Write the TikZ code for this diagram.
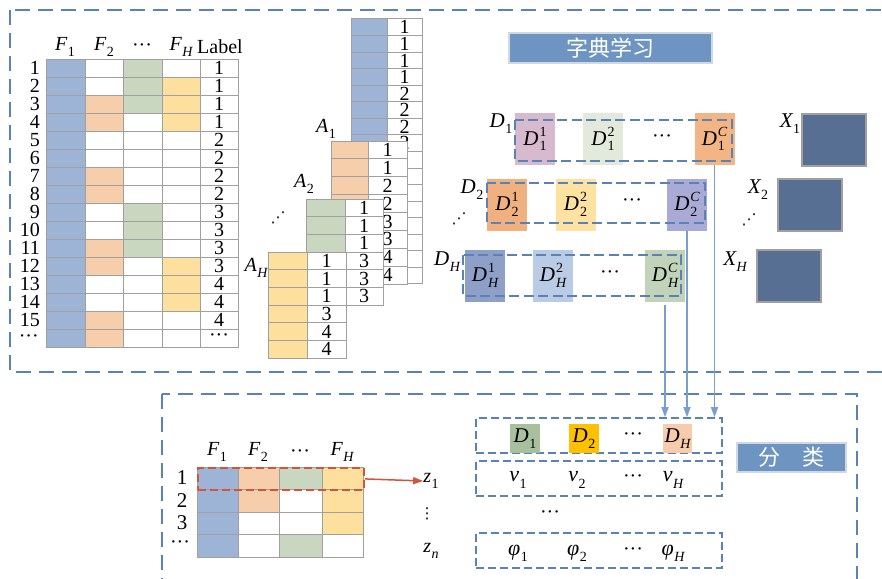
\RequirePackage{fix-cm}
\documentclass[tikz,border=0pt]{standalone}
\usepackage{fontspec}
\setmainfont{Liberation Serif}
\newfontfamily\cjk{Noto Sans CJK SC}
\newfontfamily\dvs{DejaVu Sans}
\usetikzlibrary{arrows.meta}
\definecolor{tblue}{RGB}{157,180,214}
\definecolor{tpeach}{RGB}{246,206,172}
\definecolor{tgreen}{RGB}{201,215,192}
\definecolor{tyellow}{RGB}{254,224,158}
\definecolor{gridgray}{RGB}{160,160,160}
\definecolor{dashblue}{RGB}{91,130,180}
\definecolor{arrblue}{RGB}{122,158,208}
\definecolor{titleblue}{RGB}{110,149,194}
\definecolor{titleborder}{RGB}{208,216,228}
\definecolor{xblue}{RGB}{86,111,146}
\definecolor{redline}{RGB}{208,85,58}
\definecolor{cAa}{RGB}{216,186,207}
\definecolor{cAb}{RGB}{227,234,220}
\definecolor{cAc}{RGB}{242,181,131}
\definecolor{cBa}{RGB}{241,176,127}
\definecolor{cBb}{RGB}{254,226,162}
\definecolor{cBc}{RGB}{169,170,214}
\definecolor{cCa}{RGB}{143,160,200}
\definecolor{cCb}{RGB}{186,203,230}
\definecolor{cCc}{RGB}{193,211,184}
\definecolor{bD1}{RGB}{169,192,159}
\definecolor{bD2}{RGB}{255,192,0}
\definecolor{bDH}{RGB}{248,203,173}
\newcommand\fs[1]{\fontsize{#1}{#1}\selectfont}
\newcommand\mydots{···}
% italic symbol with subscript
\newcommand\isub[2]{{\itshape #1}\kern0.5pt\raisebox{-0.28em}{\fs{14}#2}}
% italic symbol with superscript and subscript stacked
\newcommand\isupsub[3]{{\itshape #1}\kern1pt\ooalign{\raisebox{0.42em}{\fs{14}#3}\cr\raisebox{-0.28em}{\fs{14}#2}\cr}}
\newcommand\iH{{\itshape H}}
\begin{document}
\begin{tikzpicture}[x=1pt,y=-1pt,
  cell/.style={draw=gridgray, line width=1pt, inner sep=0pt, outer sep=0pt, anchor=north west, font=\fs{20}},
  lbl/.style={inner sep=0pt, font=\fs{20}},
  dts/.style={inner sep=0pt, font=\fs{20}},
  vd/.style={inner sep=0pt, font=\dvs\fs{15}},
  obox/.style={draw=dashblue, line width=2.4pt, dash pattern=on 15pt off 8pt},
  ibox/.style={draw=dashblue, line width=1.8pt, dash pattern=on 10pt off 4.5pt, inner sep=0pt},
  sbox/.style={draw=dashblue, line width=1.6pt, dash pattern=on 8pt off 4pt, inner sep=0pt},
  dsq/.style={minimum width=40pt, minimum height=52pt, inner sep=0pt, font=\fs{21}},
  xsq/.style={fill=xblue, draw=gridgray, line width=2pt, minimum width=64pt, minimum height=52pt, inner sep=0pt},
  titlebox/.style={fill=titleblue, draw=titleborder, line width=1.5pt, text=white, inner sep=0pt, font=\cjk\fs{22}},
  barrow/.style={draw=arrblue, line width=1.5pt, -{Triangle[length=10pt,width=7pt]}},
  rarrow/.style={draw=redline, line width=1.5pt, -{Triangle[length=10pt,width=7pt]}}]
\useasboundingbox (0,0) rectangle (882,578);
\clip (0,0) rectangle (882,578);

% outer dashed boxes
\draw[obox] (10,10) rectangle (900,372);
\draw[obox] (162,394) rectangle (857,600);

% ---------- left table ----------
\node[lbl] (h1) at (65,47) {\isub{F}{1}};
\node[lbl] (h2) at (104,47) {\isub{F}{2}};
\node[dts] (h3) at (142,48) {\mydots};
\node[lbl] (h4) at (181,47) {\isub{F}{\iH}};
\node[lbl] (h5) at (220,47) {Label};
\foreach \r/\b/\c/\d/\l in {1/white/tgreen/white/1, 2/white/tgreen/tyellow/1, 3/tpeach/tgreen/tyellow/1, 4/tpeach/white/tyellow/1, 5/white/white/white/2, 6/white/white/white/2, 7/tpeach/white/white/2, 8/tpeach/white/white/2, 9/white/tgreen/white/3, 10/white/tgreen/white/3, 11/tpeach/tgreen/white/3, 12/tpeach/white/tyellow/3, 13/white/white/tyellow/4, 14/white/white/tyellow/4, 15/tpeach/white/white/4}{
  \node[cell, fill=tblue, minimum width=39pt, minimum height=18pt] (L\r-a) at (46,{59+18*(\r-1)}) {};
  \node[cell, fill=\b, minimum width=38pt, minimum height=18pt] (L\r-b) at (85,{59+18*(\r-1)}) {};
  \node[cell, fill=\c, minimum width=39pt, minimum height=18pt] (L\r-c) at (123,{59+18*(\r-1)}) {};
  \node[cell, fill=\d, minimum width=38pt, minimum height=18pt] (L\r-d) at (162,{59+18*(\r-1)}) {};
  \node[cell, fill=white, minimum width=38pt, minimum height=18pt] (L\r-e) at (200,{59+18*(\r-1)}) {\l};
  \node[anchor=east, inner sep=0pt, font=\fs{20}] (R\r) at (40,{68+18*(\r-1)}) {\r};
}
\node[cell, fill=tblue, minimum width=39pt, minimum height=18pt] (L16-a) at (46,329) {};
\node[cell, fill=tpeach, minimum width=38pt, minimum height=18pt] (L16-b) at (85,329) {};
\node[cell, fill=white, minimum width=39pt, minimum height=18pt] (L16-c) at (123,329) {};
\node[cell, fill=white, minimum width=38pt, minimum height=18pt] (L16-d) at (162,329) {};
\node[cell, fill=white, minimum width=38pt, minimum height=18pt] (L16-e) at (200,329) {\mydots};
\node[anchor=east, dts] (R16) at (39,339) {\mydots};

% ---------- stacks ----------
\foreach \i/\l in {1/1,2/1,3/1,4/1,5/2,6/2,7/2,8/2,9/,10/,11/,12/,13/,14/,15/,16/}{
  \node[cell, fill=tblue, minimum width=36pt, minimum height=16.56pt] (Sa\i) at (351,{19+16.56*(\i-1)}) {};
  \node[cell, fill=white, minimum width=35pt, minimum height=16.56pt] (Sa\i n) at (387,{19+16.56*(\i-1)}) {\l};
}
\foreach \i/\l in {1/1,2/1,3/2,4/2,5/3,6/3,7/4,8/4}{
  \node[cell, fill=tpeach, minimum width=37pt, minimum height=17.9pt] (Sb\i) at (331,{141+17.9*(\i-1)}) {};
  \node[cell, fill=white, minimum width=39pt, minimum height=17.9pt] (Sb\i n) at (368,{141+17.9*(\i-1)}) {\l};
}
\foreach \i/\l in {1/1,2/1,3/1,4/3,5/3,6/3}{
  \node[cell, fill=tgreen, minimum width=39pt, minimum height=17.67pt] (Sc\i) at (306,{199+17.67*(\i-1)}) {};
  \node[cell, fill=white, minimum width=38pt, minimum height=17.67pt] (Sc\i n) at (345,{199+17.67*(\i-1)}) {\l};
}
\foreach \i/\l in {1/1,2/1,3/1,4/3,5/4,6/4}{
  \node[cell, fill=tyellow, minimum width=39pt, minimum height=17.7pt] (Sd\i) at (268,{252+17.7*(\i-1)}) {};
  \node[cell, fill=white, minimum width=39pt, minimum height=17.7pt] (Sd\i n) at (307,{252+17.7*(\i-1)}) {\l};
}
\node[lbl] (A1) at (326,129) {\isub{A}{1}};
\node[lbl] (A2) at (304,184) {\isub{A}{2}};
\node[vd] (Adots) at (278,218) {⋰};
\node[lbl] (AH) at (256,268) {\isub{A}{\iH}};

% ---------- dictionary learning ----------
\node[titlebox, minimum width=203pt, minimum height=30pt] (title) at (610.5,48) {字典学习};

% row 1
\node[dsq, fill=cAa] (d11) at (535,139) {\isupsub{D}{1}{1}};
\node[dsq, fill=cAb] (d12) at (603,139) {\isupsub{D}{1}{2}};
\node[dts] (d1dots) at (662,139) {\mydots};
\node[dsq, fill=cAc] (d1c) at (714.5,139) {\isupsub{D}{1}{\itshape C}};
\draw[ibox] (515,120) rectangle (732,161);
\node[lbl, font=\fs{21}] (D1) at (501,124) {\isub{D}{1}};
\node[lbl, font=\fs{21}] (X1l) at (790,124) {\isub{X}{1}};
\node[xsq] (X1) at (833.5,139.5) {};

% row 2
\node[dsq, fill=cBa] (d21) at (507,204.5) {\isupsub{D}{2}{1}};
\node[dsq, fill=cBb] (d22) at (575.5,204.5) {\isupsub{D}{2}{2}};
\node[dts] (d2dots) at (632,203) {\mydots};
\node[dsq, fill=cBc] (d2c) at (687,204.5) {\isupsub{D}{2}{\itshape C}};
\draw[ibox] (487,183) rectangle (705,223);
\node[lbl, font=\fs{21}] (D2) at (472,190) {\isub{D}{2}};
\node[vd] (Ddots) at (459,219) {⋰};
\node[lbl, font=\fs{21}] (X2l) at (758,190) {\isub{X}{2}};
\node[vd] (Xdots) at (749,220) {⋰};
\node[xsq] (X2) at (809.5,204.5) {};

% row H
\node[dsq, fill=cCa] (dh1) at (485,275.5) {\isupsub{D}{\iH}{1}};
\node[dsq, fill=cCb] (dh2) at (553,275.5) {\isupsub{D}{\iH}{2}};
\node[dts] (dhdots) at (610,275) {\mydots};
\node[dsq, fill=cCc] (dhc) at (665,275.5) {\isupsub{D}{\iH}{\itshape C}};
\draw[ibox] (463,255) rectangle (681,296);
\node[lbl, font=\fs{21}] (DH) at (447,262) {\isub{D}{\iH}};
\node[lbl, font=\fs{21}] (XHl) at (735,262) {\isub{X}{\iH}};
\node[xsq] (XH) at (788.5,275.5) {};

% ---------- classification ----------
\node[lbl] (g1) at (217,452) {\isub{F}{1}};
\node[lbl] (g2) at (258,452) {\isub{F}{2}};
\node[dts] (g3) at (300,454) {\mydots};
\node[lbl] (g4) at (342,452) {\isub{F}{\iH}};
\foreach \r/\a/\b/\c/\d/\t in {1/tblue/tpeach/tgreen/tyellow/1, 2/tblue/tpeach/white/tyellow/2, 3/tblue/white/white/tyellow/3}{
  \node[cell, fill=\a, minimum width=41pt, minimum height=22.5pt] (B\r-a) at (197,{467+22.5*(\r-1)}) {};
  \node[cell, fill=\b, minimum width=41pt, minimum height=22.5pt] (B\r-b) at (238,{467+22.5*(\r-1)}) {};
  \node[cell, fill=\c, minimum width=43pt, minimum height=22.5pt] (B\r-c) at (279,{467+22.5*(\r-1)}) {};
  \node[cell, fill=\d, minimum width=41pt, minimum height=22.5pt] (B\r-d) at (322,{467+22.5*(\r-1)}) {};
  \node[inner sep=0pt, font=\fs{21}] (BR\r) at (182,{478+22.5*(\r-1)}) {\t};
}
\node[cell, fill=tblue, minimum width=41pt, minimum height=22.5pt] (B4-a) at (197,534.5) {};
\node[cell, fill=white, minimum width=41pt, minimum height=22.5pt] (B4-b) at (238,534.5) {};
\node[cell, fill=tgreen, minimum width=43pt, minimum height=22.5pt] (B4-c) at (279,534.5) {};
\node[cell, fill=white, minimum width=41pt, minimum height=22.5pt] (B4-d) at (322,534.5) {};
\node[dts] (BR4) at (180,545) {\mydots};
\node[draw=redline, line width=1.8pt, dash pattern=on 8pt off 4pt, minimum width=166pt, minimum height=22pt, inner sep=0pt, anchor=north west] (rowbox) at (197,467) {};
\node[lbl] (z1) at (431,481) {\isub{z}{1}};
\node[vd] (zdots) at (427,514) {⋮};
\node[lbl] (zn) at (431,551) {\isub{z}{\itshape n}};
\draw[rarrow] (rowbox.east) -- (z1.west);

\node[sbox, minimum width=246pt, minimum height=35pt] (bb1) at (599,435.5) {};
\node[minimum width=30pt, minimum height=29pt, inner sep=0pt, fill=bD1, font=\fs{21}] (e1) at (525,438.5) {\isub{D}{1}};
\node[minimum width=30pt, minimum height=29pt, inner sep=0pt, fill=bD2, font=\fs{21}] (e2) at (584,438.5) {\isub{D}{2}};
\node[dts] (edots) at (633,437) {\mydots};
\node[minimum width=29pt, minimum height=29pt, inner sep=0pt, fill=bDH, font=\fs{21}] (eH) at (677.5,438.5) {\isub{D}{\iH}};

\node[sbox, minimum width=246pt, minimum height=35pt] (bb2) at (599,478.5) {};
\node[lbl, font=\fs{22}] (v1) at (518,480) {\isub{v}{1}};
\node[lbl, font=\fs{22}] (v2) at (577,480) {\isub{v}{2}};
\node[dts] (vdots) at (633,479) {\mydots};
\node[lbl, font=\fs{22}] (vH) at (673,480) {\isub{v}{\iH}};

\node[dts] (mdots) at (550,515) {\mydots};

\node[sbox, minimum width=246pt, minimum height=35pt] (bb3) at (599,550.5) {};
\node[lbl, font=\fs{22}] (p1) at (518,553) {\isub{φ}{1}};
\node[lbl, font=\fs{22}] (p2) at (577,553) {\isub{φ}{2}};
\node[dts] (pdots) at (633,552) {\mydots};
\node[lbl, font=\fs{22}] (pH) at (673,553) {\isub{φ}{\iH}};

\node[titlebox, minimum width=109pt, minimum height=29pt] (cls) at (791.5,457.5) {分\quad 类};

% arrows
\draw[barrow] (d1c.south) -- (d1c.south |- bb1.north);
\draw[barrow] (d2c.south) -- (d2c.south |- bb1.north);
\draw[barrow, shorten <=3pt] (dhc.south) -- (dhc.south |- bb1.north);
\end{tikzpicture}
\end{document}
